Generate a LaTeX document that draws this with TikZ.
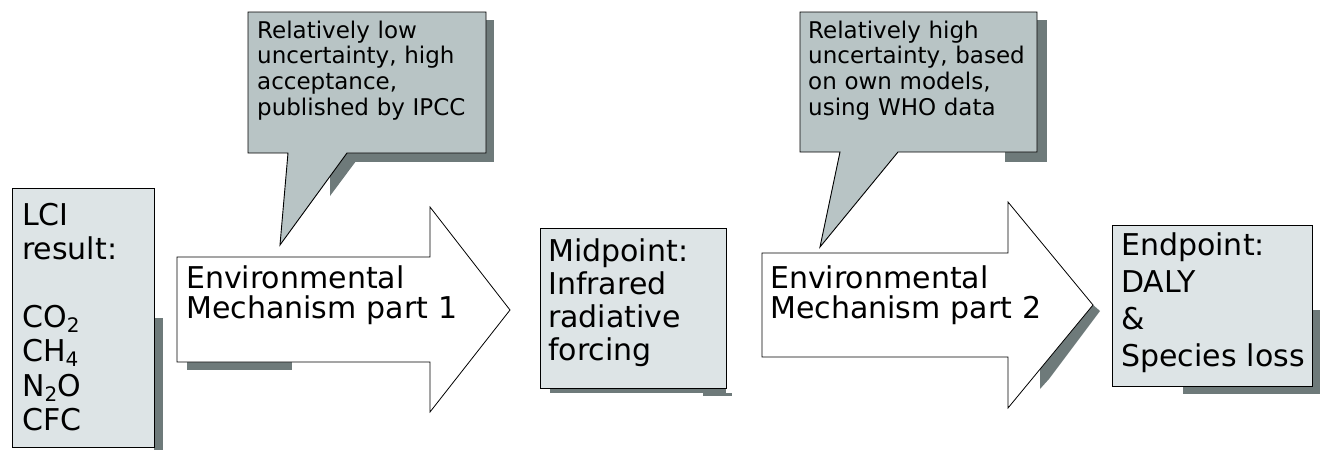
\documentclass[tikz,border=0pt]{standalone}
\usepackage{fontspec}
\setmainfont{DejaVu Sans}
\definecolor{boxfill}{HTML}{DDE4E6}
\definecolor{callfill}{HTML}{B8C4C5}
\definecolor{shade}{HTML}{6E7A7A}
\newcommand{\sbs}[1]{\raisebox{-5pt}{\fontsize{20}{20}\selectfont #1}}
\begin{document}
\begin{tikzpicture}[x=1pt,y=-1pt,
  box/.style={draw=black, line width=1pt, fill=boxfill, rectangle, inner sep=0pt, anchor=north west},
  callout/.style={draw=black, line width=0.9pt, fill=callfill, line join=miter},
  arrowshape/.style={draw=black, line width=0.8pt, fill=white, line join=miter},
  shadow/.style={fill=shade},
  txt/.style={anchor=base west, inner sep=0pt, align=left, text width=#1}]
\useasboundingbox (0,0) rectangle (1323,450);

% ---- shadows ----
\fill[shadow] (154,318) rectangle (163,450);
\fill[shadow] (187,362) rectangle (292,370);
\fill[shadow] (486,20) rectangle (494,162);
\fill[shadow] (347,153) rectangle (494,162);
\fill[shadow] (345,153) -- (362,153) -- (330,196) -- (330,172) -- cycle;
\fill[shadow] (550,388) rectangle (726,393);
\fill[shadow] (703,393) rectangle (732,395.5);
\fill[shadow] (1092,304) -- (1100,311) -- (1049,379) -- (1040,389) -- (1040,369) -- cycle;
\fill[shadow] (1037,20) rectangle (1047,162);
\fill[shadow] (1005,152) rectangle (1047,162);
\fill[shadow] (1312,310) rectangle (1320,394);
\fill[shadow] (1183,386) rectangle (1320,394);

% ---- boxes ----
\node[box, minimum width=142pt, minimum height=259pt] (lci) at (12,188) {};
\node[box, minimum width=186pt, minimum height=160pt] (mid) at (540,228) {};
\node[box, minimum width=200pt, minimum height=161pt] (endp) at (1112,225) {};

% ---- arrows ----
\draw[arrowshape] (177,257) -- (430,257) -- (430,207) -- (510,310) -- (430,412) -- (430,362) -- (177,362) -- cycle;
\draw[arrowshape] (762,253) -- (1008,253) -- (1008,202) -- (1093,305) -- (1008,408) -- (1008,357) -- (762,357) -- cycle;

% ---- callouts ----
\draw[callout] (248,12) -- (486,12) -- (486,153) -- (347,153) -- (280,245) -- (288,153) -- (248,153) -- cycle;
\draw[callout] (800,12) -- (1037,12) -- (1037,152) -- (898,152) -- (820,247) -- (840,152) -- (800,152) -- cycle;

% ---- texts ----
\node[txt=130pt, font=\fontsize{30}{34.2}\selectfont] (lcit) at (22,225)
  {LCI\\result:\\[34.2pt]CO\sbs{2}\\CH\sbs{4}\\N\sbs{2}O\\CFC};
\node[txt=300pt, font=\fontsize{30}{30}\selectfont] (a1t) at (186,288)
  {Environmental\\Mechanism part 1};
\node[txt=300pt, font=\fontsize{30}{30}\selectfont] (a2t) at (770,288)
  {Environmental\\Mechanism part 2};
\node[txt=175pt, font=\fontsize{30}{33.3}\selectfont] (midt) at (548,261)
  {Midpoint:\\Infrared\\radiative\\forcing};
\node[txt=195pt, font=\fontsize{30}{37.3}\selectfont] (endt) at (1121,255)
  {Endpoint:\\DALY\\\&\\Species loss};
\node[txt=230pt, font=\fontsize{23}{25.8}\selectfont] (c1t) at (257,38)
  {Relatively low\\uncertainty, high\\acceptance,\\published by IPCC};
\node[txt=230pt, font=\fontsize{23}{25.7}\selectfont] (c2t) at (808,38)
  {Relatively high\\uncertainty, based\\on own models,\\using WHO data};
\end{tikzpicture}
\end{document}
